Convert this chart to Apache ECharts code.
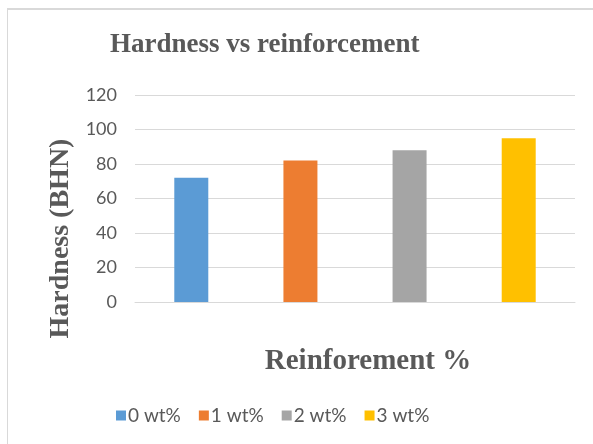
<!DOCTYPE html>
<html>
<head>
<meta charset="utf-8">
<script src="https://cdn.jsdelivr.net/npm/echarts@6/dist/echarts.min.js"></script>
<style>
html,body{margin:0;padding:0;background:#fff;}
#chart{width:593px;height:444px;position:relative;}
#frame{position:absolute;left:7px;top:8px;width:600px;height:450px;border-left:1px solid #d9d9d9;border-top:2px solid #d9d9d9;pointer-events:none;}
</style>
</head>
<body>
<div style="position:relative;width:593px;height:444px;overflow:hidden;">
<div id="chart"></div>
<div id="frame"></div>
</div>
<script>
const categories = [''];
const seriesNames = ['0 wt%', '1 wt%', '2 wt%', '3 wt%'];
const seriesValues = [72, 82, 88, 95];
const seriesColors = ['#5B9BD5', '#ED7D31', '#A5A5A5', '#FFC000'];
const yTicks = { min: 0, max: 120, interval: 20 };

const chart = echarts.init(document.getElementById('chart'), null, { renderer: 'canvas' });
const sansFont = 'Lato';
const serifFont = '"Liberation Serif", "DejaVu Serif", serif';

chart.setOption({
  backgroundColor: '#ffffff',
  animation: false,
  title: {
    text: 'Hardness vs reinforcement',
    left: 105,
    top: 27,
    textStyle: { fontFamily: serifFont, fontWeight: 'bold', fontSize: 27, color: '#595959' }
  },
  legend: {
    data: seriesNames,
    left: 111,
    top: 401,
    icon: 'rect',
    itemWidth: 10,
    itemHeight: 10,
    itemGap: 18,
    textStyle: { fontFamily: sansFont, fontSize: 19, color: '#595959', padding: [0, 0, 0, -3] }
  },
  grid: { left: 135, right: 18, top: 95, bottom: 142, containLabel: false },
  xAxis: {
    type: 'category',
    data: categories,
    name: 'Reinforement %',
    nameLocation: 'middle',
    nameGap: 45,
    nameTextStyle: { fontFamily: serifFont, fontWeight: 'bold', fontSize: 29, color: '#595959', padding: [0, 0, 0, 26] },
    axisLine: { show: true, lineStyle: { color: '#d9d9d9', width: 1 } },
    axisTick: { show: false },
    axisLabel: { show: false }
  },
  yAxis: {
    type: 'value',
    min: yTicks.min,
    max: yTicks.max,
    interval: yTicks.interval,
    name: 'Hardness (BHN)',
    nameLocation: 'middle',
    nameRotate: 90,
    nameGap: 60,
    nameTextStyle: { fontFamily: serifFont, fontWeight: 'bold', fontSize: 28, color: '#595959', padding: [0, 80, 0, 0] },
    axisLine: { show: false },
    axisTick: { show: false },
    axisLabel: { fontFamily: sansFont, fontSize: 18, color: '#595959', margin: 18 },
    splitLine: { lineStyle: { color: '#d9d9d9', width: 1 } }
  },
  series: seriesNames.map((name, i) => ({
    name: name,
    type: 'bar',
    data: [seriesValues[i]],
    barWidth: 34,
    barGap: '221%',
    itemStyle: { color: seriesColors[i] }
  }))
});
</script>
</body>
</html>
